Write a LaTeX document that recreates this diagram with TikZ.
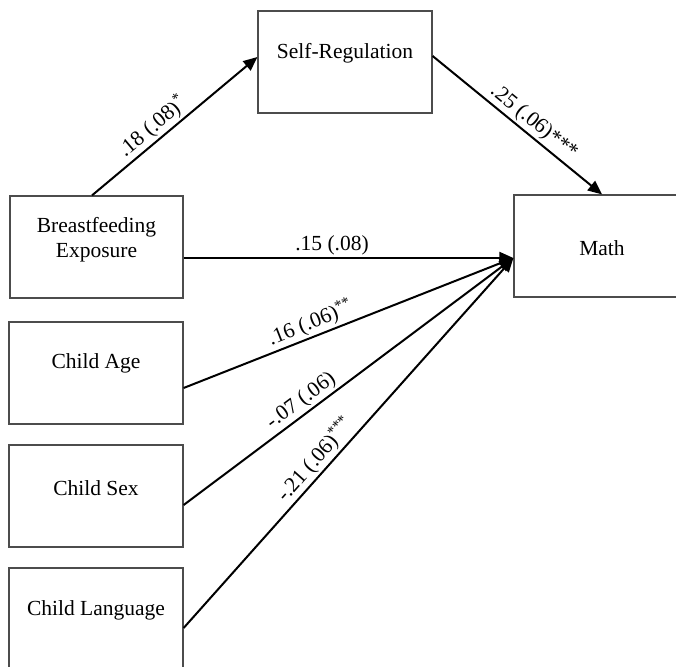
\documentclass[tikz,border=0pt]{standalone}
\usepackage{fontspec}
\setmainfont{Liberation Serif}
\usetikzlibrary{arrows.meta}
\begin{document}
\begin{tikzpicture}[x=1pt,y=-1pt,
  box/.style={draw=black!70, line width=1.2pt, minimum width=173pt, minimum height=102pt, inner sep=0pt},
  lbl/.style={font=\fontsize{21.5}{25}\selectfont, align=center, inner sep=0pt},
  path/.style={draw=black, line width=2pt},
  arr/.style={path, -{Triangle[length=14pt,width=12pt]}},
  coef/.style={font=\fontsize{21.5}{25}\selectfont, sloped, above, inner sep=2pt}]
\clip (0,0) rectangle (676,666);
\node[box, minimum width=174pt] (sr) at (345,62) {};
\node[lbl] (srt) at (345,53) {Self-Regulation};
\node[box] (bf) at (96.5,247) {};
\node[lbl] (bft) at (96.5,239.5) {Breastfeeding\\Exposure};
\node[box, minimum width=174pt] (ca) at (96,373) {};
\node[lbl] (cat) at (96,363) {Child Age};
\node[box, minimum width=174pt] (cs) at (96,496) {};
\node[lbl] (cst) at (96,488) {Child Sex};
\node[box, minimum width=174pt] (cl) at (96,619) {};
\node[lbl] (clt) at (96,610) {Child Language};
\node[box, minimum width=176pt] (math) at (602,246) {};
\node[lbl] (matht) at (602,248) {Math};
\coordinate (mt) at ([yshift=-12pt]math.west);
\draw[arr] ([xshift=-4.5pt]bf.north) -- node[coef, pos=0.42] {.18 (.08)\textsuperscript{*}} ([yshift=5pt]sr.west);
\draw[arr] ([yshift=6pt]sr.east) -- node[coef, pos=0.55] {.25 (.06)***} (math.north);
\draw[arr] ([yshift=-11pt]bf.east) -- node[coef, pos=0.45] {.15 (.08)} (mt);
\draw[arr] ([yshift=-15pt]ca.east) -- node[coef, pos=0.4] {.16 (.06)\textsuperscript{**}} (mt);
\draw[arr] ([yshift=-9pt]cs.east) -- node[coef, pos=0.38] {-.07 (.06)} (mt);
\draw[arr] ([yshift=-9pt]cl.east) -- node[coef, pos=0.43] {-.21 (.06)\textsuperscript{***}} (mt);
\end{tikzpicture}
\end{document}
